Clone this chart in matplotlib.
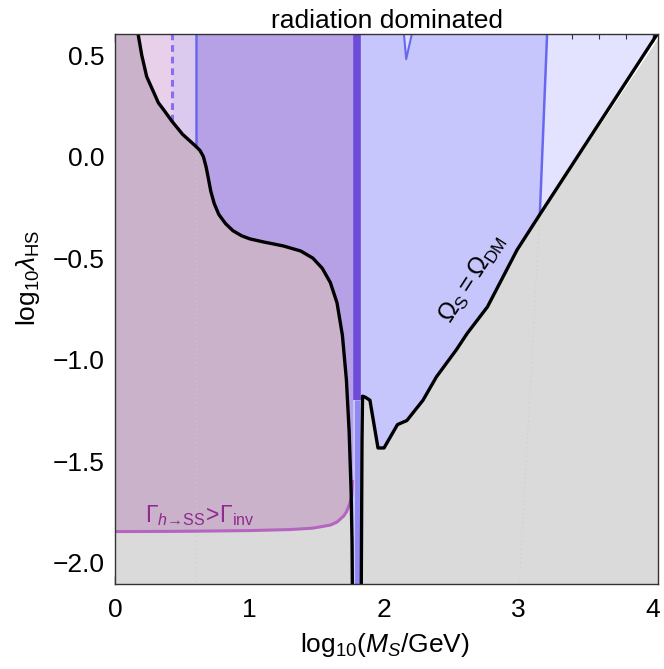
import numpy as np
import matplotlib
matplotlib.use("Agg")
import matplotlib.pyplot as plt

plt.rcParams['font.family'] = ['Liberation Sans', 'DejaVu Sans']
plt.rcParams['mathtext.fontset'] = 'custom'
plt.rcParams['mathtext.rm'] = 'Liberation Sans'
plt.rcParams['mathtext.it'] = 'Liberation Sans:italic'
plt.rcParams['mathtext.bf'] = 'Liberation Sans:bold'

# relic abundance contour Omega_S = Omega_DM (log10 M_S, log10 lambda_HS)
omega_x = [0.0, 0.15, 0.17, 0.196, 0.233, 0.32, 0.36, 0.42, 0.50, 0.60, 0.63, 0.655,
           0.675, 0.69, 0.71, 0.735, 0.77, 0.82, 0.875, 0.94, 1.0, 1.1, 1.25, 1.38,
           1.47, 1.54, 1.60, 1.65, 1.69, 1.72, 1.74, 1.755, 1.762,
           1.765, 1.83, 1.836, 1.84, 1.86, 1.895, 1.955, 2.0, 2.10, 2.17, 2.29, 2.39,
           2.54, 2.62, 2.77, 2.99, 3.16, 4.06]
omega_y = [0.70, 0.70, 0.60, 0.50, 0.394, 0.265, 0.23, 0.175, 0.11, 0.05, 0.03, 0.0,
           -0.05, -0.10, -0.17, -0.23, -0.285, -0.33, -0.365, -0.39, -0.405, -0.42, -0.44, -0.465,
           -0.50, -0.55, -0.62, -0.72, -0.88, -1.10, -1.35, -1.65, -1.90,
           -2.20, -2.20, -1.40, -1.18, -1.185, -1.20, -1.435, -1.435, -1.32, -1.30, -1.20, -1.085,
           -0.95, -0.87, -0.74, -0.46, -0.285, 0.63]

# invisible Higgs width bound Gamma_h->SS > Gamma_inv
gamma_x = [0.0, 0.42, 0.60, 1.0, 1.3, 1.47, 1.6, 1.65, 1.70, 1.72, 1.745, 1.76, 1.765, 1.768]
gamma_y = [-1.847, -1.846, -1.845, -1.842, -1.837, -1.83, -1.815, -1.80, -1.77, -1.75,
           -1.71, -1.67, -1.60, 0.70]

# direct detection bound edges
dd_left_x = 0.60
dd_weak_x = 0.42
dd_right_x = [3.16, 3.22]
dd_right_y = [-0.285, 0.70]
dd_faint_x = [3.0, 3.16]
dd_faint_y = [-2.2, -0.285]
notch_x = [2.135, 2.165, 2.24]
notch_y = [0.70, 0.48, 0.70]
higgs_res_x = 1.80

xmin, xmax = 0.0, 4.04
ymin, ymax = -2.105, 0.604
ytop, ybot = 0.70, -2.2

omega_x = np.array(omega_x)
omega_y = np.array(omega_y)
gamma_x = np.array(gamma_x)
gamma_y = np.array(gamma_y)

fig = plt.figure(figsize=(6.64, 6.69), dpi=100)
ax = fig.add_axes([0.1738, 0.1271, 0.8172, 0.8221])
ax.set_facecolor('white')

# weak (dashed) direct-detection region
m = omega_x >= dd_weak_x
ax.fill_between(omega_x[m], omega_y[m], ytop, color='#e3e3ff', lw=0, zorder=1)

# strong direct-detection region
m = (omega_x >= dd_left_x) & (omega_x <= dd_right_x[0])
bx = np.concatenate([omega_x[m], dd_right_x[1:], [dd_left_x]])
by = np.concatenate([omega_y[m], [ytop, ytop]])
ax.fill(bx, by, color='#c6c6fd', lw=0, zorder=2)
ax.fill(notch_x, notch_y, color='#dcdcff', lw=0, zorder=2.5)

# invisible width region above the relic curve
for lo, hi, col in [(0.0, dd_weak_x, '#e8d0ea'), (dd_weak_x, dd_left_x, '#dccaee'),
                    (dd_left_x, gamma_x[-1], '#b6a1e6')]:
    m = (gamma_x >= lo) & (gamma_x <= hi)
    ax.fill_between(gamma_x[m], gamma_y[m], ytop, color=col, lw=0, zorder=3)

# overabundant region
gray = ax.fill_between(omega_x, ymin, np.clip(omega_y, ymin, ymax), color='#dadada', lw=0, zorder=4)

# invisible width region inside overabundant region
mauve = ax.fill_between(gamma_x, gamma_y, ymax, color='#c9b2ca', lw=0, zorder=5)
mauve.set_clip_path(gray.get_paths()[0], ax.transData)

# faint continuations of the bound edges
ax.plot([dd_left_x, dd_left_x], [ybot, 0.05], color='#cdcdcd', lw=0.8, ls=(0, (1, 3)), zorder=5.5)
ax.plot(dd_faint_x, dd_faint_y, color='#cdcdcd', lw=0.8, ls=(0, (1, 3)), zorder=5.5)

# Higgs resonance
ax.plot([higgs_res_x, higgs_res_x], [ytop, -1.2], color='#6e4bd8', lw=5.5, zorder=6, solid_capstyle='butt')
ax.plot([higgs_res_x, higgs_res_x], [-1.2, ybot], color='#8f87f2', lw=3.5, zorder=6, solid_capstyle='butt')

# boundary lines
ax.plot([dd_left_x, dd_left_x], [0.05, ytop], color='#6868ee', lw=1.8, zorder=7)
ax.plot(dd_right_x, dd_right_y, color='#6868ee', lw=1.8, zorder=7)
ax.plot(notch_x, notch_y, color='#6868ee', lw=1.5, zorder=7)
ax.plot([dd_weak_x, dd_weak_x], [0.175, ytop], color='#8a6cf0', lw=2.2, ls=(0, (2.2, 1.6)), zorder=7)
ax.plot(gamma_x[:13], gamma_y[:13], color='#b565c0', lw=2.2, zorder=7)
ax.plot(omega_x, omega_y, color='black', lw=2.4, zorder=8)

gamma_label = r'$\Gamma_{h\mathrm{' + '\u2192' + r'SS}}\!>\!\Gamma_{\mathrm{inv}}$'
ax.text(0.22, -1.798, gamma_label, color='#8e2a8e', fontsize=16.5, ha='left', va='baseline', zorder=9)
ax.text(2.66, -0.60, r'$\Omega_{\mathrm{S}}=\Omega_{\mathrm{DM}}$', color='black', fontsize=18,
        rotation=57, rotation_mode='anchor', ha='center', va='center', zorder=9)

ax.set_xlim(xmin, xmax)
ax.set_ylim(ymin, ymax)
ax.set_xticks([0, 1, 2, 3, 4])
ax.set_xticks(np.arange(0, 4.05, 0.2), minor=True)
ax.set_yticks([-2.0, -1.5, -1.0, -0.5, 0.0, 0.5])
ax.set_yticks(np.arange(-2.1, 0.61, 0.1), minor=True)
ax.set_yticklabels(['\u22122.0', '\u22121.5', '\u22121.0', '\u22120.5', '0.0', '0.5'])
ax.tick_params(which='both', direction='in', top=True, right=True, labelsize=19, color='#333333')
ax.tick_params(which='major', length=6, width=1)
ax.tick_params(which='minor', length=3.5, width=0.8)
ax.tick_params(axis='x', pad=10)
ax.tick_params(axis='y', pad=8)
for s in ax.spines.values():
    s.set_color('#333333')
    s.set_linewidth(1.0)
    s.set_zorder(10)

ax.set_title('radiation dominated', fontsize=19, pad=4)
ax.set_xlabel(r'$\mathrm{log}_{10}(M_S/\mathrm{GeV})$', fontsize=19, va='center')
ax.set_ylabel(r'$\mathrm{log}_{10}\lambda_{\mathrm{HS}}$', fontsize=19, va='center')
ax.xaxis.set_label_coords(0.497, -0.111)
ax.yaxis.set_label_coords(-0.161, 0.556)

fig.savefig('out.png', dpi=100)
